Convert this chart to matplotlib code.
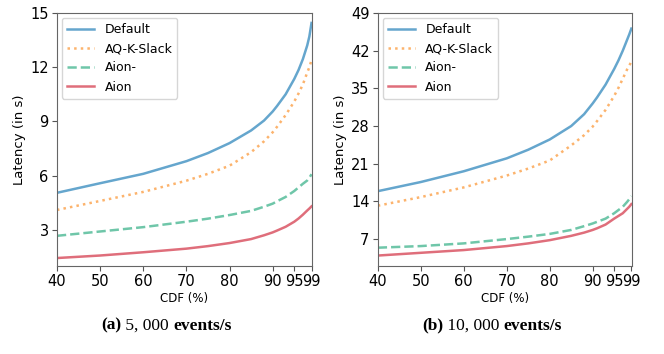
import numpy as np
import matplotlib.pyplot as plt

# percentiles (x axis, CDF %)
cdf = [40, 50, 60, 70, 75, 80, 85, 88, 90, 91, 93, 95, 96, 97, 98, 98.5, 99]

# (a) 5,000 events/s -- latency in s
a_default = [5.05, 5.58, 6.1, 6.8, 7.25, 7.8, 8.5, 9.05, 9.55, 9.85, 10.5, 11.35, 11.85, 12.45, 13.2, 13.7, 14.45]
a_aqk = [4.1, 4.6, 5.1, 5.72, 6.1, 6.55, 7.3, 7.9, 8.4, 8.7, 9.35, 10.1, 10.55, 11.05, 11.7, 12.0, 12.4]
a_aion_minus = [2.67, 2.91, 3.15, 3.45, 3.62, 3.82, 4.05, 4.28, 4.45, 4.58, 4.82, 5.15, 5.35, 5.55, 5.73, 5.88, 6.08]
a_aion = [1.44, 1.58, 1.76, 1.96, 2.1, 2.27, 2.49, 2.7, 2.86, 2.96, 3.17, 3.45, 3.63, 3.84, 4.07, 4.18, 4.3]

# (b) 10,000 events/s
b_default = [15.9, 17.6, 19.6, 22.0, 23.6, 25.5, 28.0, 30.2, 32.2, 33.3, 35.7, 38.6, 40.2, 42.0, 44.0, 45.0, 46.1]
b_aqk = [13.2, 14.8, 16.6, 18.8, 20.1, 21.6, 24.4, 26.3, 27.9, 28.9, 31.0, 33.6, 35.1, 36.8, 38.5, 39.2, 40.0]
b_aion_minus = [5.4, 5.7, 6.2, 7.0, 7.45, 7.96, 8.7, 9.4, 9.9, 10.2, 10.8, 11.8, 12.4, 13.0, 13.9, 14.4, 15.0]
b_aion = [3.94, 4.45, 4.96, 5.7, 6.2, 6.8, 7.6, 8.2, 8.7, 9.0, 9.7, 10.8, 11.3, 11.8, 12.6, 13.0, 13.5]

labels = ['Default', 'AQ-K-Slack', 'Aion-', 'Aion']
colors = ['#3288bd', '#fb9a3c', '#3fb48c', '#d53e4f']
styles = ['-', ':', '--', '-']
xticks = [40, 50, 60, 70, 80, 90, 95, 99]

fig = plt.figure(figsize=(6.64, 3.54), dpi=100)
ax1 = fig.add_axes([0.0858, 0.2486, 0.384, 0.7147])
ax2 = fig.add_axes([0.569, 0.2486, 0.3825, 0.7147])

panels = [
    (ax1, [a_default, a_aqk, a_aion_minus, a_aion], (1, 15), [3, 6, 9, 12, 15]),
    (ax2, [b_default, b_aqk, b_aion_minus, b_aion], (2, 49), [7, 14, 21, 28, 35, 42, 49]),
]

for ax, series, ylim, yticks in panels:
    for y, lab, c, ls in zip(series, labels, colors, styles):
        ax.plot(cdf, y, ls, color=c, label=lab, lw=1.8, alpha=0.75)
    ax.set_xlim(40, 99.1)
    ax.set_ylim(*ylim)
    ax.set_xticks(xticks)
    ax.set_yticks(yticks)
    ax.tick_params(labelsize=10.5, length=3.5, color='#555555', pad=2.5)
    for s in ax.spines.values():
        s.set_color('#666666')
    ax.set_xlabel('CDF (%)', fontsize=8.5, labelpad=2)
    ax.set_ylabel('Latency (in s)', fontsize=9.5, labelpad=3)
    ax.legend(loc='upper left', fontsize=9, handlelength=2.2, borderaxespad=0.4)

# sub captions: bold label, regular number, bold unit
def caption(xc, tag, num):
    parts = [(tag, 'bold'), (' ' + num + ' ', 'normal'), ('events/s', 'bold')]
    texts = []
    for s, w in parts:
        texts.append(fig.text(0, 0.08, s, fontsize=12.5, family='Liberation Serif',
                              weight=w, va='center', ha='left'))
    fig.canvas.draw()
    r = fig.canvas.get_renderer()
    widths = [tx.get_window_extent(r).width for tx in texts]
    x = xc * fig.bbox.width - sum(widths) / 2
    for tx, w in zip(texts, widths):
        tx.set_position((x / fig.bbox.width, 0.08))
        x += w

caption(166 / 664, '(a)', '5, 000')
caption(492 / 664, '(b)', '10, 000')

fig.savefig('out.png', dpi=100)
